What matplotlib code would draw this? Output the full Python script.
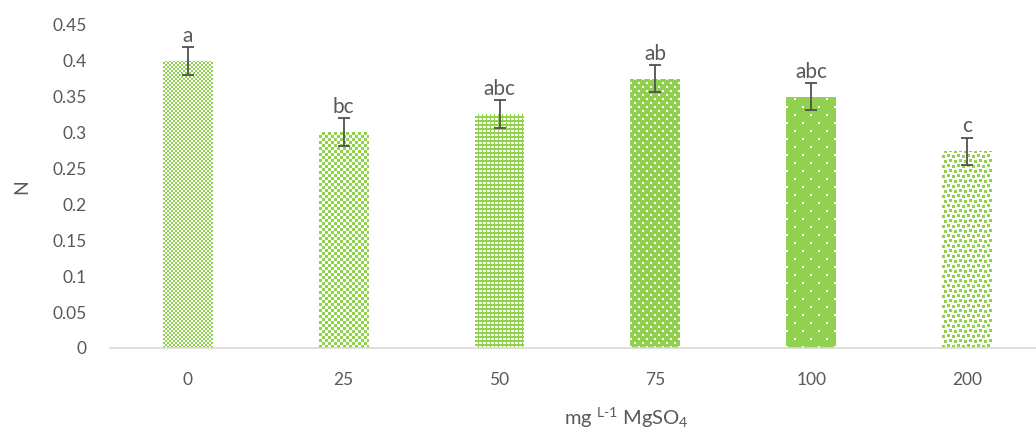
import numpy as np
import matplotlib
matplotlib.use("Agg")
import matplotlib.pyplot as plt

plt.rcParams['font.family'] = ['Lato', 'DejaVu Sans']
plt.rcParams['mathtext.fontset'] = 'custom'
plt.rcParams['mathtext.rm'] = 'Lato'
plt.rcParams['mathtext.it'] = 'Lato:italic'

# data
doses = ['0', '25', '50', '75', '100', '200']
n_values = [0.400, 0.301, 0.326, 0.375, 0.350, 0.274]
n_err = [0.019, 0.019, 0.019, 0.019, 0.019, 0.019]
letters = ['a', 'bc', 'abc', 'ab', 'abc', 'c']

green = np.array([0x92, 0xD0, 0x50]) / 255.0
white = np.array([1.0, 1.0, 1.0])
text_col = '#595959'


def tile_for(i):
    # 1 = green pixel, 0 = white pixel (Excel-like pattern fills)
    if i == 0:  # small checkerboard
        t = np.zeros((4, 4))
        t[:2, :2] = 1
        t[2:, 2:] = 1
    elif i == 1:  # larger checkerboard
        t = np.zeros((6, 6))
        t[:3, :3] = 1
        t[3:, 3:] = 1
    elif i == 2:  # dense white dots
        t = np.ones((4, 4))
        t[0:2, 0:2] = 0
        t[0:2, 2] = 0
    elif i == 3:  # medium white dots, staggered
        t = np.ones((8, 8))
        t[0:2, 0:2] = 0
        t[4:6, 4:6] = 0
    elif i == 4:  # sparse white dots
        t = np.ones((16, 16))
        t[0:2, 0:2] = 0
        t[8:10, 8:10] = 0
    else:  # confetti: green squares on white
        t = np.zeros((10, 10))
        t[0:3, 0:3] = 1
        t[1:4, 5:8] = 1
        t[5:8, 2:5] = 1
        t[6:9, 7:10] = 1
    return t


fig = plt.figure(figsize=(10.36, 4.32), dpi=100)
ax = fig.add_axes([110 / 1036, 84 / 432, 926 / 1036, 323 / 432])
ax.patch.set_visible(False)

x = np.arange(len(doses))
bars = ax.bar(x, n_values, width=0.32, facecolor='none', linewidth=0, zorder=1)
ax.errorbar(x, n_values, yerr=n_err, fmt='none', ecolor='#505050',
            elinewidth=1.3, capsize=4, capthick=1.3, zorder=3)

ax.set_xlim(-0.5, 5.443)
ax.set_ylim(0, 0.45)
ax.set_yticks(np.arange(0, 0.451, 0.05))
ax.set_yticklabels(['0', '0.05', '0.1', '0.15', '0.2', '0.25', '0.3', '0.35', '0.4', '0.45'])
ax.set_xticks(x)
ax.set_xticklabels(doses)

# pattern fills placed pixel-exact over each bar
renderer = fig.canvas.get_renderer()
for i, b in enumerate(bars):
    bb = b.get_window_extent(renderer=renderer)
    xo = int(round(bb.x0))
    yo = int(round(bb.y0))
    w = int(round(bb.x1)) - xo
    h = int(round(bb.y1)) - yo
    t = tile_for(i)
    reps = (h // t.shape[0] + 2, w // t.shape[1] + 2)
    mask = np.tile(t, reps)[:h, :w]
    img = mask[..., None] * green + (1 - mask[..., None]) * white
    fig.figimage(img, xo=xo, yo=yo, origin='lower', zorder=-1)

for xi, v, e, s in zip(x, n_values, n_err, letters):
    ax.annotate(s, (xi, v + e), xytext=(0, 1), textcoords='offset points',
                ha='center', va='bottom', fontsize=15, color=text_col)

for side in ['top', 'right', 'left']:
    ax.spines[side].set_visible(False)
ax.spines['bottom'].set_color('#D9D9D9')
ax.spines['bottom'].set_linewidth(1.2)
ax.tick_params(axis='both', length=0, labelsize=12.5, labelcolor=text_col)
ax.tick_params(axis='y', pad=17)
ax.tick_params(axis='x', pad=17)

ax.set_ylabel('N', fontsize=14, color=text_col, labelpad=16)
ax.set_xlabel(r'mg $^{\text{L-1}}$ MgSO$_{\text{4}}$', fontsize=14.5,
              color=text_col, labelpad=10)
ax.xaxis.set_label_coords(0.558, -0.18)

fig.savefig('out.png', dpi=100, facecolor='white')
